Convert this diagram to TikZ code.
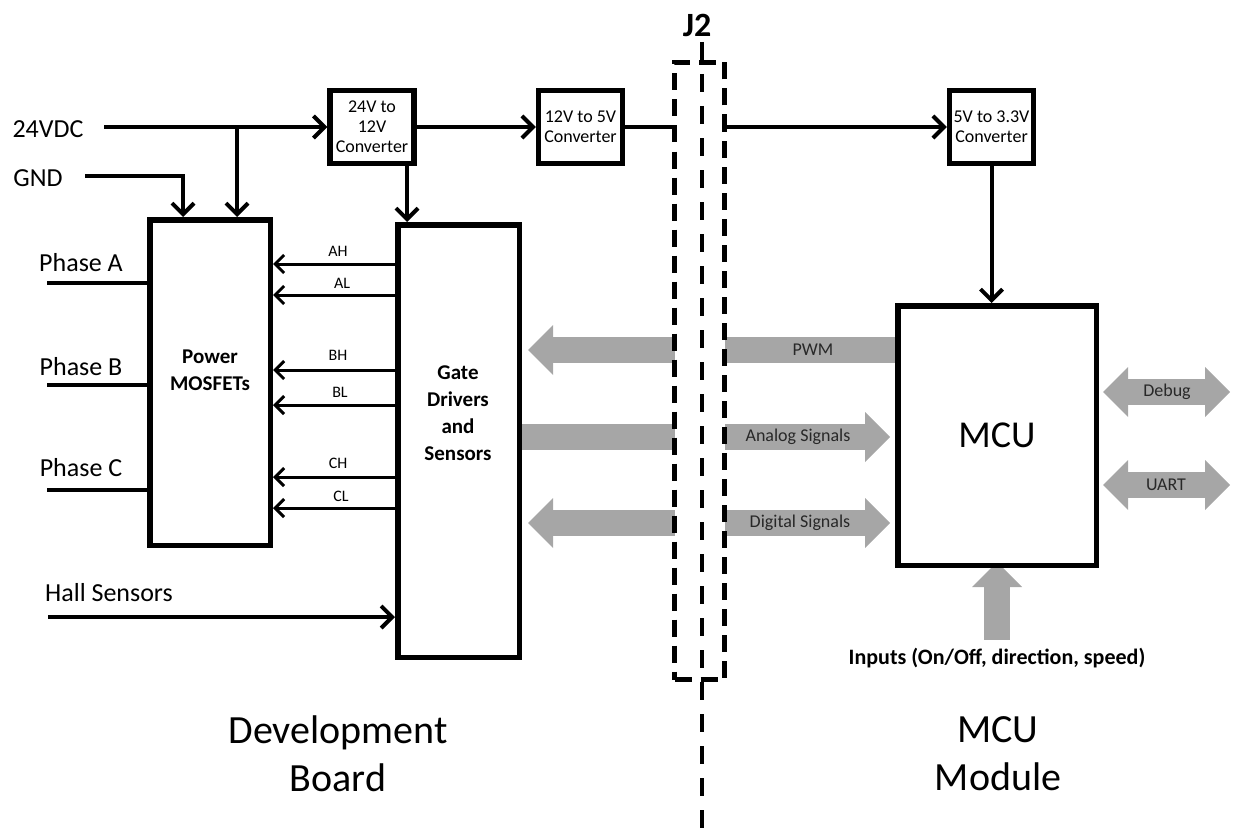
\documentclass[tikz,border=0pt]{standalone}
\usepackage{fontspec}
\setmainfont{Carlito}
\usetikzlibrary{arrows.meta,calc,backgrounds}
\definecolor{gr}{RGB}{166,166,166}
\definecolor{gtext}{RGB}{40,40,40}
\begin{document}
\begin{tikzpicture}[x=1pt,y=-1pt,
  box/.style={draw, line width=5.5pt, fill=white, inner sep=1pt, align=center},
  wire/.style={line width=4pt},
  arr/.style={wire, -{Straight Barb[length=11pt,width=22pt]}},
  sarr/.style={line width=3pt, -{Straight Barb[length=9pt,width=18pt]}},
  garr/.style={draw=gr, line width=26pt, -{Triangle[length=25pt,width=50pt,line width=0pt]}},
  gdarr/.style={draw=gr, line width=26pt, {Triangle[length=25pt,width=50pt,line width=0pt]}-{Triangle[length=25pt,width=50pt,line width=0pt]}},
  lbl/.style={font=\fontsize{26}{30}\selectfont, inner sep=0pt},
  slbl/.style={font=\fontsize{16}{18}\selectfont, inner sep=0pt},
  glbl/.style={font=\fontsize{18}{20}\selectfont, text=gtext, inner sep=0pt},
  conv/.style={box, font=\fontsize{18}{20}\selectfont, minimum width=84pt, minimum height=73pt}
]
\useasboundingbox (0,0) rectangle (1233,832);

% blocks
\node[conv] (c1) at (372,127) {24V to\\12V\\Converter};
\node[conv] (c2) at (580.5,127) {12V to 5V\\Converter};
\node[conv] (c3) at (991.5,127) {5V to 3.3V\\Converter};
\node[box, minimum width=120.5pt, minimum height=325.5pt] (pm) at (210,382.5) {};
\node[font=\bfseries\fontsize{21}{27}\selectfont, align=center, inner sep=0pt] (pmt) at (210,370) {Power\\MOSFETs};
\node[box, minimum width=121.5pt, minimum height=432.5pt] (gd) at (458.5,441) {};
\node[font=\bfseries\fontsize{21}{27}\selectfont, align=center, inner sep=0pt] (gdt) at (458,413) {Gate\\Drivers\\and\\Sensors};
\node[box, minimum width=198.5pt, minimum height=259.5pt, font=\fontsize{38}{44}\selectfont] (mcu) at (997,435.5) {MCU};

% gray buses (behind blocks)
\begin{scope}[on background layer]
\draw[garr, shorten >=6pt] (mcu.west |- 0,350) -- (gd.east |- 0,350);
\draw[garr, shorten >=5pt] (gd.east |- 0,437) -- (mcu.west |- 0,437);
\draw[gdarr, shorten <=6pt, shorten >=5pt] (gd.east |- 0,523) -- (mcu.west |- 0,523);
\coordinate (dbg) at (1230,392);
\coordinate (uart) at (1230,485);
\draw[gdarr, shorten <=4pt] (mcu.east |- dbg) -- (dbg);
\draw[gdarr, shorten <=4pt] (mcu.east |- uart) -- (uart);
\end{scope}
\node[font=\bfseries\fontsize{22}{26}\selectfont, inner sep=0pt] (inp) at (997,658) {Inputs (On/Off, direction, speed)};
\begin{scope}[on background layer]
\draw[garr, shorten <=8pt, shorten >=-6pt] (mcu.south |- inp.north) -- (mcu.south);
\end{scope}
\node[glbl] (pwm) at (813,350) {PWM};
\node[glbl] (ana) at (798,437) {Analog Signals};
\node[glbl] (dig) at (800,523) {Digital Signals};
\node[glbl] (dbgl) at (1167,392) {Debug};
\node[glbl] (uartl) at (1166,485) {UART};

% power inputs
\node[lbl] (vdc) at (48,129) {24VDC};
\node[lbl] (gnd) at (38,178) {GND};
\coordinate (vin) at (104,127);
\draw[arr] (vin) -- (vin -| c1.west);
\coordinate (br) at (237,127);
\draw[arr] (br) -- (br |- pm.north);
\coordinate (gin) at (85,176);
\coordinate (gx) at (183,0);
\draw[arr] (gin) -| (gx |- pm.north);
\draw[arr] (c1.east) -- (c2.west);
\coordinate (d1) at (407,0);
\draw[arr] (d1 |- c1.south) -- (d1 |- gd.north);
\draw[arr] (c3.south) -- (c3.south |- mcu.north);

% phases
\node[lbl] (pha) at (81,263) {Phase A};
\node[lbl] (phb) at (81,367) {Phase B};
\node[lbl] (phc) at (81,468) {Phase C};
\coordinate (pa) at (47,283);
\coordinate (pb) at (47,385);
\coordinate (pc) at (47,490);
\draw[wire] (pa) -- (pa -| pm.west);
\draw[wire] (pb) -- (pb -| pm.west);
\draw[wire] (pc) -- (pc -| pm.west);

% hall sensors
\node[lbl] (hall) at (109,593) {Hall Sensors};
\coordinate (hs) at (48,617);
\draw[arr] (hs) -- (hs -| gd.west);

% gate signals
\foreach \y/\ly/\t/\lx in {264/251/AH/338, 295/283/AL/342, 370/355/BH/338, 405/392/BL/340, 477/463/CH/338, 508/496/CL/341}{
  \draw[sarr] (gd.west |- 0,\y) -- (pm.east |- 0,\y);
  \node[slbl] (s\t) at (\lx,\ly) {\t};
}

% J2 connector
\draw[wire] (c2.east) -- (c2.east -| 674,0);
\draw[arr] (c2.east -| 725,0) -- (c3.west);
\node[draw, line width=5pt, fill=white, dash pattern=on 17pt off 9pt, minimum width=50pt, minimum height=617pt] (j2) at (699.5,371) {};
\coordinate (j2t) at (702,42);
\coordinate (j2b) at (702,832);
\draw[line width=4.5pt, dash pattern=on 18pt off 14pt] (j2t) -- (j2b);
\node[font=\bfseries\fontsize{34}{38}\selectfont, inner sep=0pt] (j2l) at (697,25) {J2};

% bottom captions
\node[align=center, font=\fontsize{40}{48}\selectfont] (devb) at (338,754) {Development\\Board};
\node[align=center, font=\fontsize{40}{48}\selectfont] (mcum) at (998,754) {MCU\\Module};
\end{tikzpicture}
\end{document}
